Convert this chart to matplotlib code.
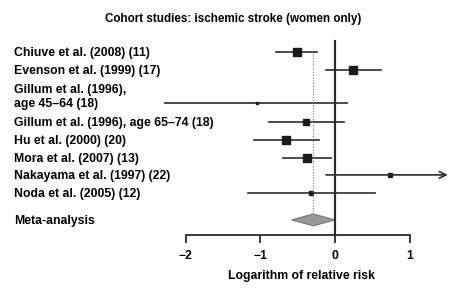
import matplotlib.pyplot as plt
from matplotlib.patches import Polygon

plt.rcParams['font.family'] = ['Liberation Sans', 'DejaVu Sans']

studies = ['Chiuve et al. (2008) (11)', 'Evenson et al. (1999) (17)',
           'Gillum et al. (1996),\nage 45\u201364 (18)',
           'Gillum et al. (1996), age 65\u201374 (18)',
           'Hu et al. (2000) (20)', 'Mora et al. (2007) (13)',
           'Nakayama et al. (1997) (22)', 'Noda et al. (2005) (12)']
rows = [0, 1, 2.83, 3.87, 4.89, 5.89, 6.83, 7.82]
est = [-0.51, 0.24, -1.05, -0.39, -0.66, -0.37, 0.74, -0.32]
lo = [-0.79, -0.12, -2.27, -0.89, -1.09, -0.69, -0.12, -1.16]
hi = [-0.24, 0.62, 0.16, 0.12, -0.21, -0.06, 1.51, 0.54]
arrow = [False, False, False, False, False, False, True, False]
box = [7, 7, 2, 6, 7, 8, 4, 3]  # marker size in px

meta_row = 9.33
meta_est, meta_lo, meta_hi = -0.29, -0.58, 0.0
xticks = [-2, -1, 0, 1]

fs = 8.8
fig = plt.figure(figsize=(4.59, 3.07), dpi=100)
ax = fig.add_axes([0, 0, 1, 1])
ax.set_xlim(-4.485, 1.66)
ax.set_ylim(14.17, -2.889)

col = '#2b2b2b'
for i in range(len(studies)):
    if arrow[i]:
        ax.annotate('', xy=(hi[i], rows[i]), xytext=(lo[i], rows[i]),
                    arrowprops=dict(arrowstyle='->', color=col, lw=1.2,
                                    shrinkA=0, shrinkB=0, mutation_scale=12))
    else:
        ax.plot([lo[i], hi[i]], [rows[i], rows[i]], color=col, lw=1.2)
    ax.plot(est[i], rows[i], 's', color='#1a1a1a', ms=box[i] * 0.78, mec='#1a1a1a')
    # baseline of the (last) line sits a little below the row centre
    ax.text(-4.297, rows[i] + 0.24, studies[i], ha='left', va='baseline',
            fontsize=fs, fontweight='bold', linespacing=1.2)

# meta-analysis diamond
h = 0.33
dia = Polygon([[meta_lo, meta_row], [meta_est, meta_row - h],
               [meta_hi, meta_row], [meta_est, meta_row + h]],
              closed=True, fc='#999999', ec='#777777', lw=0.8, zorder=3)
ax.add_patch(dia)
ax.text(-4.297, meta_row + 0.24, 'Meta-analysis', ha='left', va='baseline',
        fontsize=fs, fontweight='bold')
ax.plot([meta_est, meta_est], [rows[0], meta_row - h], color='#777777',
        lw=0.8, ls=(0, (1, 1.5)))

# null line
ax.plot([0, 0], [-0.6, 10.17], color=col, lw=1.6, zorder=4)

for s in ['top', 'right', 'left']:
    ax.spines[s].set_visible(False)
ax.spines['bottom'].set_position(('data', 10.17))
ax.spines['bottom'].set_bounds(xticks[0], xticks[-1])
ax.spines['bottom'].set_color(col)
ax.spines['bottom'].set_linewidth(1.3)
ax.set_xticks(xticks)
ax.set_xticklabels(['\u22122', '\u22121', '0', '1'])
ax.tick_params(axis='x', direction='out', length=6, width=1.3, color=col,
               labelsize=fs, pad=5)
for t in ax.get_xticklabels():
    t.set_fontweight('bold')
ax.set_yticks([])
ax.text(-0.45, 12.45, 'Logarithm of relative risk', ha='center', va='center',
        fontsize=fs, fontweight='bold')

fig.text(233 / 459, 1 - 19 / 307, 'Cohort studies: ischemic stroke (women only)',
         ha='center', va='center', fontsize=8.4, fontweight='bold')

fig.savefig('out.png', dpi=100)
